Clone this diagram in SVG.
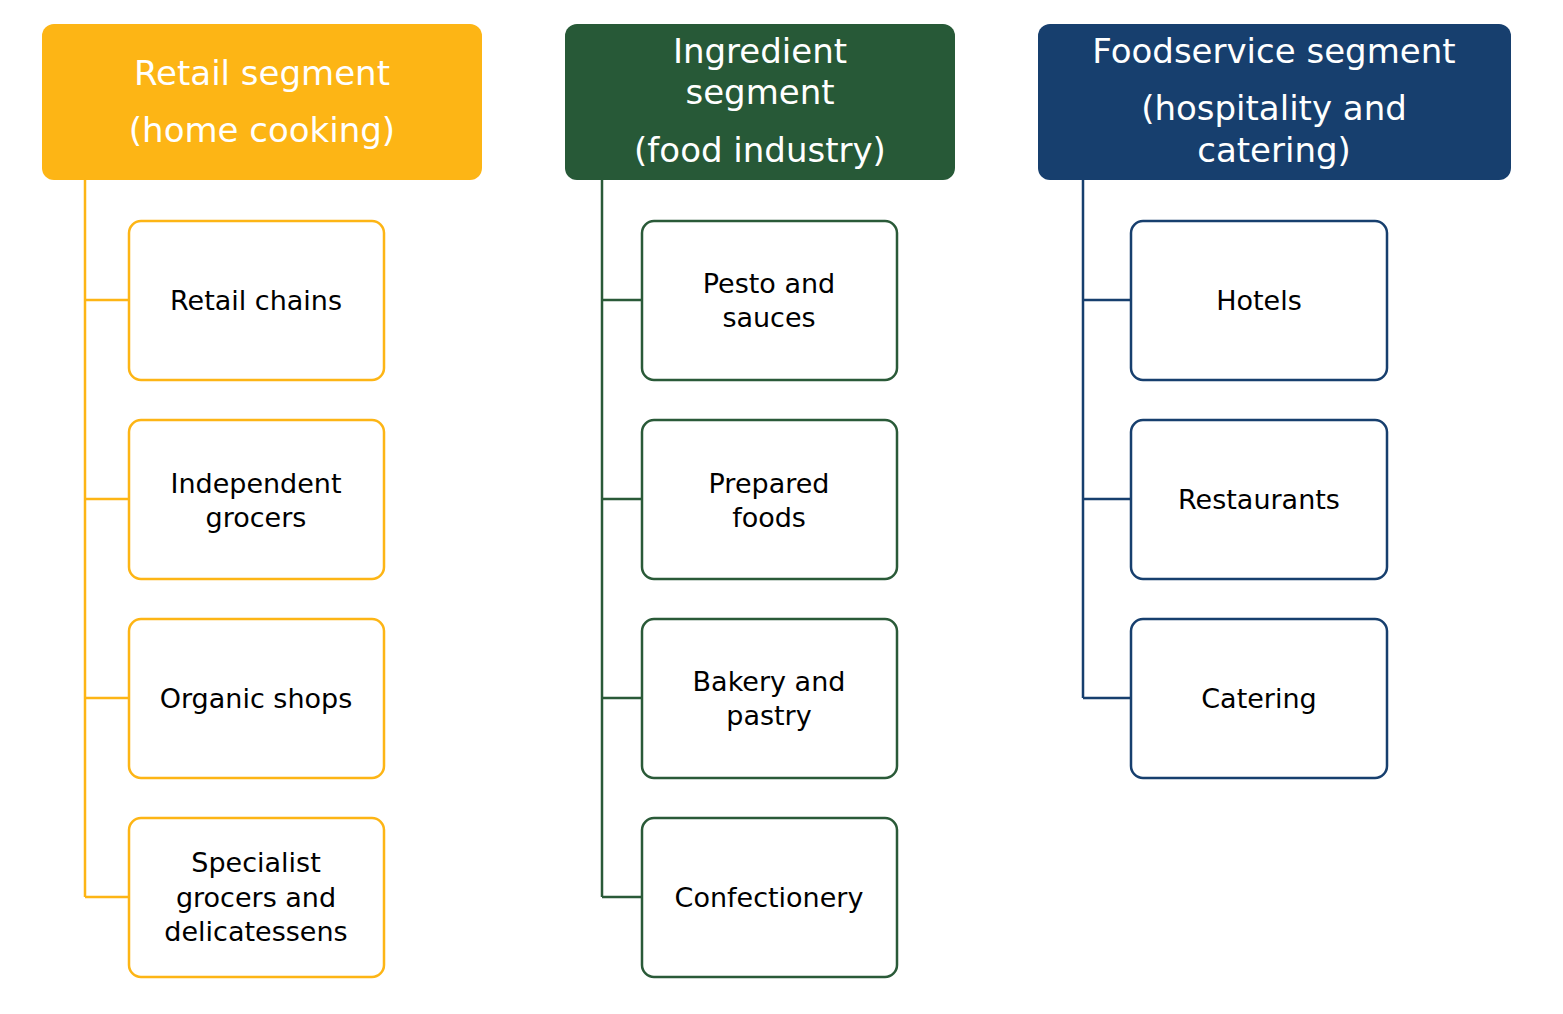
<svg xmlns="http://www.w3.org/2000/svg" width="1563" height="1014" viewBox="0 0 1563 1014">
<style>
text{font-family:"DejaVu Sans","Verdana",sans-serif;text-anchor:middle}
.h{font-size:34px;fill:#fff}
.c{font-size:27px;fill:#000}
.b{fill:#fff;stroke-width:2.5}
.y{stroke:#FDB515}.g{stroke:#2A5A38}.n{stroke:#173F6E}
.l{fill:none;stroke-width:2.5}
</style>
<rect width="1563" height="1014" fill="#fff"/>
<g id="connectors">
<path class="l y" d="M85 180V897M85 300H129M85 499H129M85 698H129M85 897H129"/>
<path class="l g" d="M602 180V897M602 300H642M602 499H642M602 698H642M602 897H642"/>
<path class="l n" d="M1083 180V698M1083 300H1131M1083 499H1131M1083 698H1131"/>
</g>
<g id="h1"><rect x="42" y="24" width="440" height="156" rx="12" fill="#FDB515"/><text class="h" x="262" y="85">Retail segment</text><text class="h" x="262" y="142">(home cooking)</text></g>
<g id="h2"><rect x="565" y="24" width="390" height="156" rx="12" fill="#275937"/><text class="h" x="760" y="63">Ingredient</text><text class="h" x="760" y="104">segment</text><text class="h" x="760" y="162">(food industry)</text></g>
<g id="h3"><rect x="1038" y="24" width="473" height="156" rx="12" fill="#173F6E"/><text class="h" x="1274" y="63">Foodservice segment</text><text class="h" x="1274" y="120">(hospitality and</text><text class="h" x="1274" y="162">catering)</text></g>
<g id="r1"><rect class="b y" x="129" y="221" width="255" height="159" rx="12"/><text class="c" x="256" y="310">Retail chains</text></g>
<g id="r2"><rect class="b y" x="129" y="420" width="255" height="159" rx="12"/><text class="c" x="256" y="493">Independent</text><text class="c" x="256" y="527">grocers</text></g>
<g id="r3"><rect class="b y" x="129" y="619" width="255" height="159" rx="12"/><text class="c" x="256" y="708">Organic shops</text></g>
<g id="r4"><rect class="b y" x="129" y="818" width="255" height="159" rx="12"/><text class="c" x="256" y="872">Specialist</text><text class="c" x="256" y="907">grocers and</text><text class="c" x="256" y="941">delicatessens</text></g>
<g id="i1"><rect class="b g" x="642" y="221" width="255" height="159" rx="12"/><text class="c" x="769" y="293">Pesto and</text><text class="c" x="769" y="327">sauces</text></g>
<g id="i2"><rect class="b g" x="642" y="420" width="255" height="159" rx="12"/><text class="c" x="769" y="493">Prepared</text><text class="c" x="769" y="527">foods</text></g>
<g id="i3"><rect class="b g" x="642" y="619" width="255" height="159" rx="12"/><text class="c" x="769" y="691">Bakery and</text><text class="c" x="769" y="725">pastry</text></g>
<g id="i4"><rect class="b g" x="642" y="818" width="255" height="159" rx="12"/><text class="c" x="769" y="907">Confectionery</text></g>
<g id="f1"><rect class="b n" x="1131" y="221" width="256" height="159" rx="12"/><text class="c" x="1259" y="310">Hotels</text></g>
<g id="f2"><rect class="b n" x="1131" y="420" width="256" height="159" rx="12"/><text class="c" x="1259" y="509">Restaurants</text></g>
<g id="f3"><rect class="b n" x="1131" y="619" width="256" height="159" rx="12"/><text class="c" x="1259" y="708">Catering</text></g>
</svg>
